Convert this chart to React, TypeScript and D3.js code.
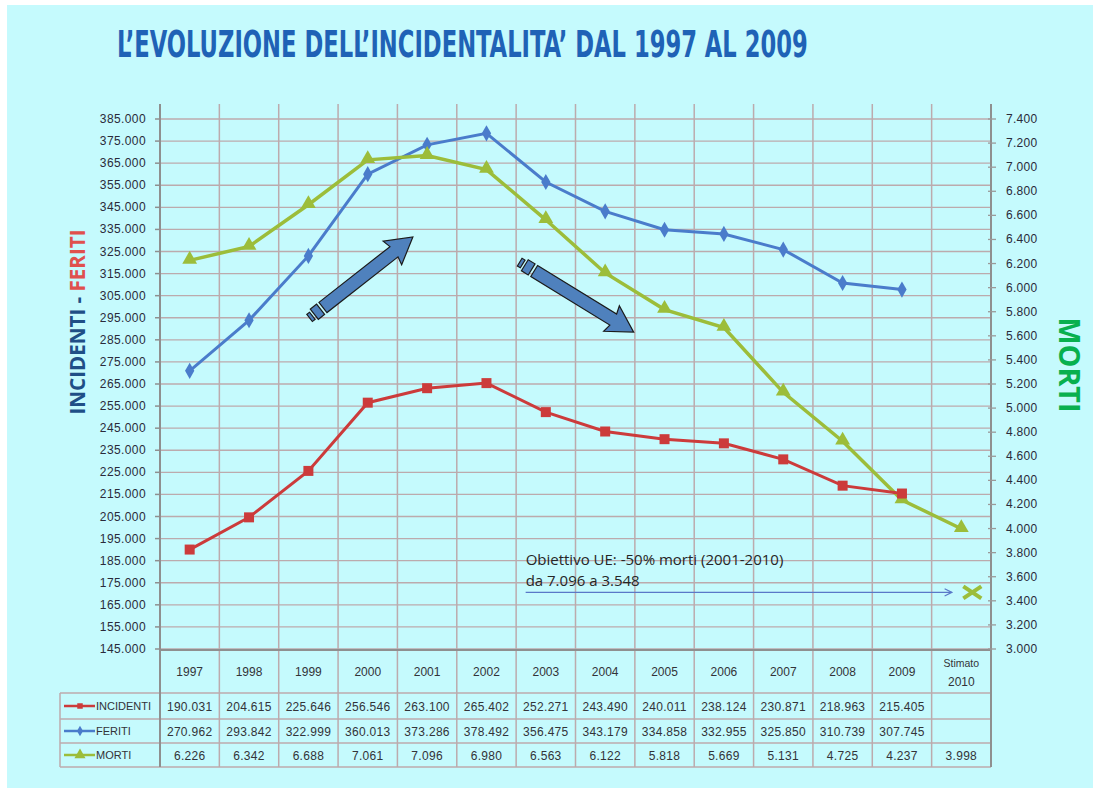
import * as d3 from 'd3'
import React, { useEffect, useRef } from 'react'

const years = ['1997', '1998', '1999', '2000', '2001', '2002', '2003', '2004', '2005', '2006', '2007', '2008', '2009', 'Stimato 2010']
const incidenti = [190031, 204615, 225646, 256546, 263100, 265402, 252271, 243490, 240011, 238124, 230871, 218963, 215405]
const feriti = [270962, 293842, 322999, 360013, 373286, 378492, 356475, 343179, 334858, 332955, 325850, 310739, 307745]
const morti = [6226, 6342, 6688, 7061, 7096, 6980, 6563, 6122, 5818, 5669, 5131, 4725, 4237, 3998]
const leftTicks = d3.range(145000, 385001, 10000)
const rightTicks = d3.range(3000, 7401, 200)
// obiettivo UE, marker as drawn in the picture
const obiettivo = 3470
const noteLines = ['Obiettivo UE: -50% morti (2001-2010)', 'da 7.096 a 3.548']
// big arrows in data coords: [index, value(left axis)]
const arrowUp = [[2.02, 294900], [3.76, 331600]]
const arrowDown = [[5.56, 320200], [7.48, 288500]]

const it = d3.formatLocale({ decimal: ',', thousands: '.', grouping: [3], currency: ['€', ''] })
const fmt = it.format(',d')

const W = 1099
const H = 792
const left = 160
const right = 991
const top = 108
const bottom = 650
const rowLines = [693, 719, 743, 767]

const RED = '#cc3b3b'
const BLUE = '#4a7ccb'
const GREEN = '#9cbd3a'
const GRID = '#bcaaad'
const TXT = '#333338'

export default function App() {
  const svgRef = useRef<SVGSVGElement | null>(null)

  useEffect(() => {
    const svg = d3.select(svgRef.current)
    svg.selectAll('*').remove()

    const x = d3.scaleBand().domain(years).range([left, right])
    const cx = (i: number) => left + x.bandwidth() * (i + 0.5)
    const yL = d3.scaleLinear().domain([145000, 385000]).range([649, 119])
    const yR = d3.scaleLinear().domain([3000, 7400]).range([649, 119])

    svg.append('rect').attr('x', 7).attr('y', 5).attr('width', 1086).attr('height', 783).attr('fill', '#c5fafd')

    // title: tall condensed, squeezed horizontally to the original width
    const title = svg.append('text')
      .attr('x', 0).attr('y', 0)
      .attr('transform', 'translate(117,57)')
      .style('font-family', '"Liberation Sans Narrow", "DejaVu Sans Condensed", sans-serif')
      .style('font-weight', 'bold').style('font-size', '37px')
      .attr('fill', '#1f62b6')
      .text('L\u2019EVOLUZIONE DELL\u2019INCIDENTALITA\u2019 DAL 1997 AL 2009')
    const tw = (title.node() as SVGTextElement).getComputedTextLength()
    if (tw > 0) title.attr('transform', `translate(117,57) scale(${691 / tw},1)`)

    // horizontal grid
    svg.append('g').selectAll('line').data(leftTicks).join('line')
      .attr('x1', left).attr('x2', right)
      .attr('y1', (d) => yL(d)).attr('y2', (d) => yL(d))
      .attr('stroke', GRID).attr('stroke-width', 1.3)

    // vertical grid / table columns
    const bounds = d3.range(years.length + 1).map((i) => left + x.step() * i)
    svg.append('g').selectAll('line').data(bounds.slice(1, -1)).join('line')
      .attr('x1', (d) => d).attr('x2', (d) => d)
      .attr('y1', top - 4).attr('y2', rowLines[3])
      .attr('stroke', GRID).attr('stroke-width', 1.5)

    // table rows
    svg.append('g').selectAll('line').data(rowLines).join('line')
      .attr('x1', 60).attr('x2', right)
      .attr('y1', (d) => d).attr('y2', (d) => d)
      .attr('stroke', GRID).attr('stroke-width', 1.5)
    svg.append('line').attr('x1', 60).attr('x2', 60).attr('y1', rowLines[0]).attr('y2', rowLines[3])
      .attr('stroke', GRID).attr('stroke-width', 1.5)

    // axes lines
    svg.append('line').attr('x1', left).attr('x2', right).attr('y1', bottom).attr('y2', bottom)
      .attr('stroke', '#8f8f8f').attr('stroke-width', 2)
    svg.append('line').attr('x1', left).attr('x2', left).attr('y1', top - 4).attr('y2', rowLines[3])
      .attr('stroke', '#8f8f8f').attr('stroke-width', 2)
    svg.append('line').attr('x1', right).attr('x2', right).attr('y1', top - 4).attr('y2', rowLines[3])
      .attr('stroke', '#8f8f8f').attr('stroke-width', 2)

    // left ticks
    const gl = svg.append('g')
    gl.selectAll('line').data(leftTicks).join('line')
      .attr('x1', left - 5).attr('x2', left).attr('y1', (d) => yL(d)).attr('y2', (d) => yL(d))
      .attr('stroke', '#8f8f8f').attr('stroke-width', 1.5)
    gl.selectAll('text').data(leftTicks).join('text')
      .attr('x', 146).attr('y', (d) => yL(d) + 4)
      .attr('text-anchor', 'end')
      .style('font-family', '"Liberation Sans", Arial, sans-serif').style('font-size', '12px')
      .style('letter-spacing', '0.4px')
      .attr('fill', '#2a2a3a')
      .text((d) => fmt(d))

    // right ticks
    const gr = svg.append('g')
    gr.selectAll('line').data(rightTicks).join('line')
      .attr('x1', right - 3).attr('x2', right + 5).attr('y1', (d) => yR(d)).attr('y2', (d) => yR(d))
      .attr('stroke', '#9a9a9a').attr('stroke-width', 1.3)
    gr.selectAll('text').data(rightTicks).join('text')
      .attr('x', 1006).attr('y', (d) => yR(d) + 4)
      .style('font-family', '"Liberation Sans", Arial, sans-serif').style('font-size', '12px')
      .style('letter-spacing', '0.3px')
      .attr('fill', '#2a2a3a')
      .text((d) => fmt(d))

    // axis titles
    const lt = svg.append('text')
      .attr('transform', 'translate(85,322) rotate(-90)')
      .attr('text-anchor', 'middle')
      .attr('textLength', 185).attr('lengthAdjust', 'spacingAndGlyphs')
      .style('font-family', '"Open Sans", "Liberation Sans", sans-serif')
      .style('font-weight', 'bold').style('font-size', '22px')
    lt.append('tspan').attr('fill', '#1f4f86').text('INCIDENTI - ')
    lt.append('tspan').attr('fill', '#e0504d').text('FERITI')

    svg.append('text')
      .attr('transform', 'translate(1059,365) rotate(90)')
      .attr('text-anchor', 'middle')
      .attr('textLength', 95).attr('lengthAdjust', 'spacingAndGlyphs')
      .style('font-family', '"Open Sans", "Liberation Sans", sans-serif')
      .style('font-weight', 'bold').style('font-size', '29px')
      .attr('fill', '#08b04e')
      .text('MORTI')

    // big arrows
    const bigArrow = (pts: number[][]) => {
      const x0 = cx(pts[0][0]); const y0 = yL(pts[0][1])
      const x1 = cx(pts[1][0]); const y1 = yL(pts[1][1])
      const L = Math.hypot(x1 - x0, y1 - y0)
      const ang = (Math.atan2(y1 - y0, x1 - x0) * 180) / Math.PI
      const g = svg.append('g').attr('transform', `translate(${x0},${y0}) rotate(${ang})`)
      const hw = 6.5
      const shape = [
        [17, -hw], [L - 24, -hw], [L - 26, -15], [L, 0], [L - 26, 15], [L - 24, hw], [17, hw],
      ]
      const style = (s: any) => s.attr('fill', '#4f81bd').attr('stroke', '#1b1b1b').attr('stroke-width', 1.2)
      style(g.append('rect').attr('x', 0).attr('y', -4.5).attr('width', 3.5).attr('height', 9))
      style(g.append('rect').attr('x', 6).attr('y', -hw).attr('width', 8).attr('height', hw * 2))
      style(g.append('path').attr('d', d3.line()(shape as [number, number][]) + 'Z'))
    }
    bigArrow(arrowUp)
    bigArrow(arrowDown)

    // series lines
    const line = (ys: (v: number) => number) =>
      d3.line<number>().x((_, i) => cx(i)).y((d) => ys(d))
    svg.append('path').attr('d', line(yL)(feriti)).attr('fill', 'none').attr('stroke', BLUE).attr('stroke-width', 3)
    svg.append('path').attr('d', line(yR)(morti)).attr('fill', 'none').attr('stroke', GREEN).attr('stroke-width', 3.5)
    svg.append('path').attr('d', line(yL)(incidenti)).attr('fill', 'none').attr('stroke', RED).attr('stroke-width', 3)

    const sym = {
      square: d3.symbol(d3.symbolSquare, 100)(),
      diamond: d3.symbol(d3.symbolDiamond, 75)(),
      triangle: d3.symbol(d3.symbolTriangle, 95)(),
    }
    svg.append('g').selectAll('path').data(feriti).join('path')
      .attr('d', sym.diamond).attr('transform', (d, i) => `translate(${cx(i)},${yL(d)})`).attr('fill', BLUE)
    svg.append('g').selectAll('path').data(morti).join('path')
      .attr('d', sym.triangle).attr('transform', (d, i) => `translate(${cx(i)},${yR(d) - 1})`).attr('fill', GREEN)
    svg.append('g').selectAll('path').data(incidenti).join('path')
      .attr('d', sym.square).attr('transform', (d, i) => `translate(${cx(i)},${yL(d)})`).attr('fill', RED)

    // obiettivo annotation
    const ay = yR(obiettivo)
    svg.append('defs').append('marker')
      .attr('id', 'open-arrow').attr('viewBox', '0 0 10 10').attr('refX', 9).attr('refY', 5)
      .attr('markerWidth', 9).attr('markerHeight', 9).attr('orient', 'auto').attr('markerUnits', 'userSpaceOnUse')
      .append('path').attr('d', 'M1,1 L9,5 L1,9').attr('fill', 'none').attr('stroke', '#5a78c8').attr('stroke-width', 1.3)
    svg.append('line')
      .attr('x1', cx(5.66)).attr('x2', cx(12.84)).attr('y1', ay).attr('y2', ay)
      .attr('stroke', '#5a78c8').attr('stroke-width', 1.3).attr('marker-end', 'url(#open-arrow)')
    const xs = cx(13) + 11
    const xg = svg.append('g').attr('transform', `translate(${xs},${ay})`)
    xg.append('line').attr('x1', -9).attr('x2', 9).attr('y1', -6).attr('y2', 6).attr('stroke', GREEN).attr('stroke-width', 4)
    xg.append('line').attr('x1', -9).attr('x2', 9).attr('y1', 6).attr('y2', -6).attr('stroke', GREEN).attr('stroke-width', 4)
    svg.append('g').selectAll('text').data(noteLines).join('text')
      .attr('x', cx(5.66)).attr('y', (_, i) => ay - 27 + i * 21)
      .style('font-family', '"Open Sans", "Liberation Sans", sans-serif').style('font-size', '15px')
      .attr('fill', '#262626')
      .text((d) => d)

    // table header
    const hdr = svg.append('g')
      .style('font-family', '"Liberation Sans", Arial, sans-serif').attr('fill', TXT)
    years.forEach((yv, i) => {
      if (yv.startsWith('Stimato')) {
        const [a, b] = yv.split(' ')
        hdr.append('text').attr('x', cx(i)).attr('y', 667).attr('text-anchor', 'middle').style('font-size', '10.5px').text(a)
        hdr.append('text').attr('x', cx(i)).attr('y', 686).attr('text-anchor', 'middle').style('font-size', '12px').text(b)
      } else {
        hdr.append('text').attr('x', cx(i)).attr('y', 676).attr('text-anchor', 'middle').style('font-size', '12px').text(yv)
      }
    })

    const rows = [
      { name: 'INCIDENTI', values: incidenti, color: RED, marker: sym.square, scale: 0.55 },
      { name: 'FERITI', values: feriti, color: BLUE, marker: sym.diamond, scale: 0.65 },
      { name: 'MORTI', values: morti, color: GREEN, marker: sym.triangle, scale: 0.75 },
    ]
    rows.forEach((r, k) => {
      const mid = (rowLines[k] + rowLines[k + 1]) / 2
      svg.append('line').attr('x1', 64).attr('x2', 95).attr('y1', mid).attr('y2', mid).attr('stroke', r.color).attr('stroke-width', 2.5)
      svg.append('path').attr('d', r.marker).attr('transform', `translate(80,${mid}) scale(${r.scale})`).attr('fill', r.color)
      svg.append('text').attr('x', 96).attr('y', mid + 4)
        .style('font-family', '"Liberation Sans", Arial, sans-serif').style('font-size', '11px')
        .attr('fill', TXT).text(r.name)
      svg.append('g').selectAll('text').data(r.values).join('text')
        .attr('x', (_, i) => cx(i)).attr('y', mid + 4.5).attr('text-anchor', 'middle')
        .style('font-family', '"Liberation Sans", Arial, sans-serif').style('font-size', '12px')
        .style('letter-spacing', '0.3px')
        .attr('fill', TXT).text((d) => fmt(d))
    })
  }, [])

  return (
    <svg ref={svgRef} width={W} height={H}
      style={{ position: 'absolute', left: 0, top: 0, background: '#ffffff', display: 'block' }} />
  )
}
